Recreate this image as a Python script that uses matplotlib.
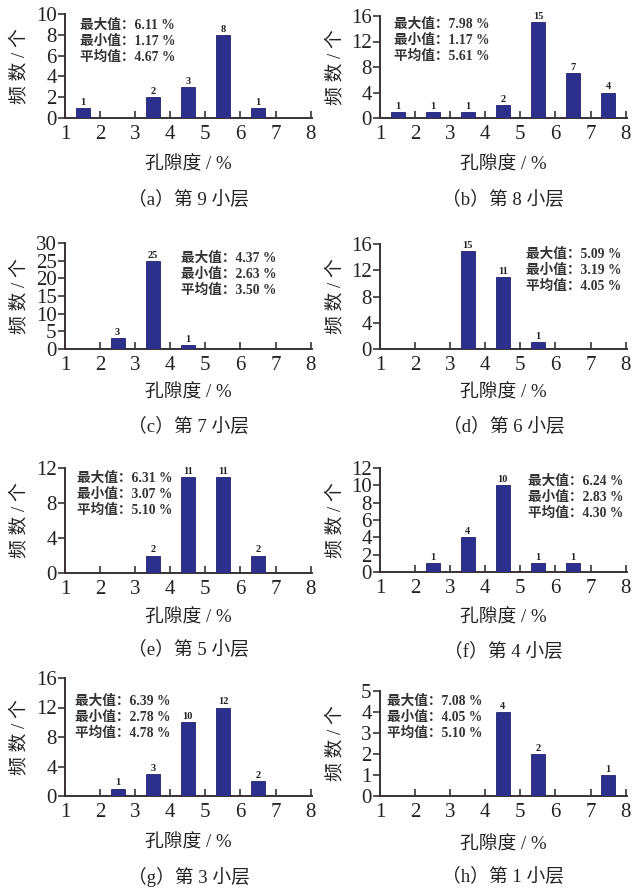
import matplotlib
matplotlib.use("Agg")
import matplotlib.pyplot as plt
import numpy as np

plt.rcParams['font.family'] = ['Liberation Serif', 'Noto Sans CJK SC', 'DejaVu Sans']

centers = [1.5, 2.5, 3.5, 4.5, 5.5, 6.5, 7.5]

counts_a = [1, 0, 2, 3, 8, 1, 0]
counts_b = [1, 1, 1, 2, 15, 7, 4]
counts_c = [0, 3, 25, 1, 0, 0, 0]
counts_d = [0, 0, 15, 11, 1, 0, 0]
counts_e = [0, 0, 2, 11, 11, 2, 0]
counts_f = [0, 1, 4, 10, 1, 1, 0]
counts_g = [0, 1, 3, 10, 12, 2, 0]
counts_h = [0, 0, 0, 4, 2, 0, 1]

yticks_a = [0, 2, 4, 6, 8, 10]
yticks_b = [0, 4, 8, 12, 16]
yticks_c = [0, 5, 10, 15, 20, 25, 30]
yticks_d = [0, 4, 8, 12, 16]
yticks_e = [0, 4, 8, 12]
yticks_f = [0, 2, 4, 6, 8, 10, 12]
yticks_g = [0, 4, 8, 12, 16]
yticks_h = [0, 1, 2, 3, 4, 5]

stats_a = ["6.11", "1.17", "4.67"]
stats_b = ["7.98", "1.17", "5.61"]
stats_c = ["4.37", "2.63", "3.50"]
stats_d = ["5.09", "3.19", "4.05"]
stats_e = ["6.31", "3.07", "5.10"]
stats_f = ["6.24", "2.83", "4.30"]
stats_g = ["6.39", "2.78", "4.78"]
stats_h = ["7.08", "4.05", "5.10"]

captions = ["（a）第 9 小层", "（b）第 8 小层", "（c）第 7 小层", "（d）第 6 小层",
            "（e）第 5 小层", "（f）第 4 小层", "（g）第 3 小层", "（h）第 1 小层"]
xticks = [1, 2, 3, 4, 5, 6, 7, 8]
xlabel = "孔隙度 / %"
ylabel = "频 数 / 个"
stat_names = ["最大值：", "最小值：", "平均值："]

W, H = 635, 890
fig = plt.figure(figsize=(6.35, 8.9), dpi=100)

bar_color = '#2c2f8c'
spine_color = '#3a3232'

# (counts, yticks, stats, axes px [left, top, right, bottom], text pos (axes frac), xlabel y, caption y)
panels = [
    (counts_a, yticks_a, stats_a, (65, 14, 312, 118), (0.06, 0.89), 165, 200),
    (counts_b, yticks_b, stats_b, (380, 16, 627, 118), (0.057, 0.92), 165, 200),
    (counts_c, yticks_c, stats_c, (65, 243, 312, 349), (0.47, 0.86), 393, 427),
    (counts_d, yticks_d, stats_d, (380, 244, 627, 349), (0.59, 0.90), 393, 427),
    (counts_e, yticks_e, stats_e, (65, 468, 312, 573), (0.05, 0.90), 618, 650),
    (counts_f, yticks_f, stats_f, (380, 468, 627, 572), (0.60, 0.87), 618, 652),
    (counts_g, yticks_g, stats_g, (65, 678, 312, 796), (0.04, 0.80), 843, 877),
    (counts_h, yticks_h, stats_h, (380, 691, 627, 796), (0.03, 0.90), 845, 877),
]

for i, (cnts, yt, st, box, tpos, xly, capy) in enumerate(panels):
    l, t, r, b = box
    ax = fig.add_axes([l / W, 1 - b / H, (r - l) / W, (b - t) / H])
    xs = [c for c, n in zip(centers, cnts) if n > 0]
    ns = [n for n in cnts if n > 0]
    ax.bar(xs, ns, width=0.4, color=bar_color, edgecolor='#1e2070', linewidth=0.6, zorder=3)
    ymax = yt[-1]
    for x, n in zip(xs, ns):
        ax.text(x, n + ymax * 0.01, str(n), ha='center', va='bottom', fontsize=7.5,
                fontweight='bold', color='#222222', zorder=4)
    ax.set_xlim(1, 8.04)
    ax.set_ylim(0, ymax)
    ax.set_xticks(xticks)
    ax.set_yticks(yt)
    ax.tick_params(axis='x', direction='in', length=5, width=1.2, colors=spine_color,
                   labelsize=15, pad=5, labelcolor='#222222')
    ax.tick_params(axis='y', direction='out', length=5, width=1.2, colors=spine_color,
                   labelsize=15, pad=1, labelcolor='#222222')
    for s in ['top', 'right']:
        ax.spines[s].set_visible(False)
    for s in ['left', 'bottom']:
        ax.spines[s].set_color(spine_color)
        ax.spines[s].set_linewidth(1.4)
    ax.patch.set_alpha(0)
    # stats
    for k, (nm, v) in enumerate(zip(stat_names, st)):
        ax.text(tpos[0], tpos[1] - k * 0.155 * (104 / (b - t)), f"{nm}{v} %",
                transform=ax.transAxes, ha='left', va='center', fontsize=9.8,
                fontweight='bold', color='#333333')
    cx = (l + r) / 2
    fig.text(cx / W, 1 - xly / H, xlabel, ha='center', va='center', fontsize=13.5, color='#222222')
    fig.text(cx / W, 1 - capy / H, captions[i], ha='center', va='center', fontsize=13.5, color='#222222')
    ylx = 20 if l < 300 else 336
    fig.text(ylx / W, 1 - ((t + b) / 2) / H, ylabel, ha='center', va='center', rotation=90,
             fontsize=13.5, color='#222222')

fig.savefig('out.png', dpi=100, facecolor='white')
